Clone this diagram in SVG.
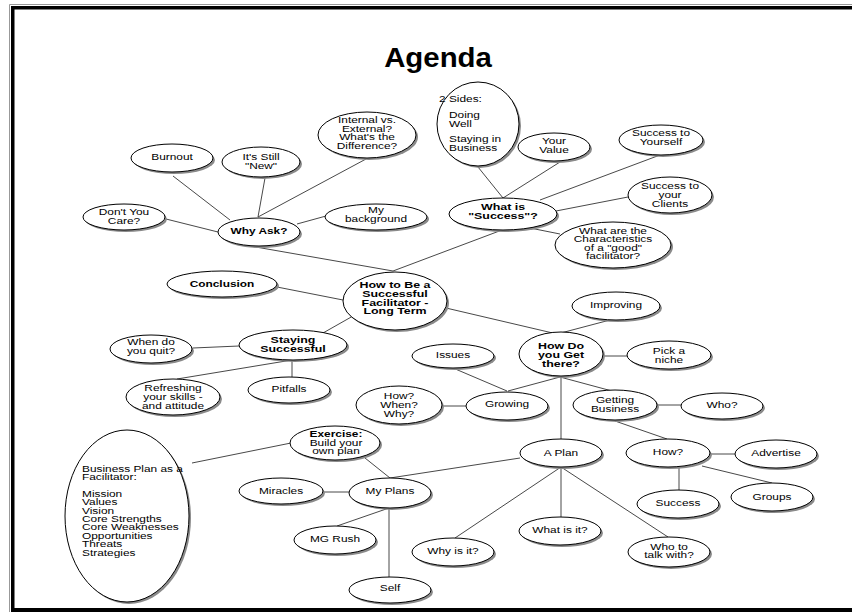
<svg xmlns="http://www.w3.org/2000/svg" width="852" height="612" viewBox="0 0 852 612">
<style>
.sh{fill:#8a8a8a}
.el{fill:#fff;stroke:#000;stroke-width:1}
.t{font-family:"Liberation Sans",Arial,sans-serif;font-size:8.8px;fill:#000;text-anchor:middle}
.tl{text-anchor:start}
.b{font-weight:bold}
.b10{font-weight:bold;font-size:9.2px}
#connectors line{stroke:#333;stroke-width:0.9}
</style>
<rect x="0" y="0" width="852" height="612" fill="#fff"/>
<g id="frame">
<line x1="9.5" y1="4.5" x2="852" y2="4.5" stroke="#999" stroke-width="1"/>
<line x1="9.5" y1="4.5" x2="9.5" y2="612" stroke="#999" stroke-width="1"/>
<rect x="11" y="6" width="841" height="3.5" fill="#000"/>
<rect x="11" y="6" width="3.5" height="606" fill="#000"/>
<rect x="11" y="608" width="841" height="4" fill="#000"/>
</g>
<text id="title" class="t b" transform="translate(438 0) scale(1.05 1)" y="67" style="font-size:28px">Agenda</text>
<g id="connectors">
<line x1="173" y1="176" x2="230" y2="220"/>
<line x1="265" y1="178" x2="258" y2="217"/>
<line x1="366" y1="159" x2="258" y2="217"/>
<line x1="166" y1="219" x2="218" y2="232"/>
<line x1="297" y1="224" x2="326" y2="216"/>
<line x1="250" y1="246" x2="393" y2="271"/>
<line x1="478" y1="167" x2="503" y2="198"/>
<line x1="560" y1="162" x2="503" y2="198"/>
<line x1="660" y1="155" x2="540" y2="200"/>
<line x1="628" y1="197" x2="556" y2="211"/>
<line x1="530" y1="228" x2="560" y2="234"/>
<line x1="502" y1="230" x2="393" y2="271"/>
<line x1="277" y1="287" x2="343" y2="300"/>
<line x1="323" y1="333" x2="353" y2="316"/>
<line x1="446" y1="308" x2="557" y2="334"/>
<line x1="610" y1="320" x2="557" y2="334"/>
<line x1="603" y1="356" x2="627" y2="356"/>
<line x1="560" y1="377" x2="508" y2="391"/>
<line x1="560" y1="377" x2="612" y2="391"/>
<line x1="561" y1="377" x2="561" y2="440"/>
<line x1="453" y1="368" x2="507" y2="391"/>
<line x1="442" y1="406" x2="466" y2="406"/>
<line x1="656" y1="405" x2="682" y2="405"/>
<line x1="615" y1="421" x2="667" y2="439"/>
<line x1="710" y1="454" x2="735" y2="454"/>
<line x1="702" y1="466" x2="772" y2="483"/>
<line x1="679" y1="467" x2="679" y2="490"/>
<line x1="520" y1="458" x2="390" y2="478"/>
<line x1="561" y1="467" x2="455" y2="538"/>
<line x1="561" y1="467" x2="561" y2="517"/>
<line x1="561" y1="467" x2="668" y2="537"/>
<line x1="365" y1="458" x2="390" y2="478"/>
<line x1="323" y1="492" x2="349" y2="492"/>
<line x1="389" y1="508" x2="337" y2="526"/>
<line x1="389" y1="508" x2="389" y2="577"/>
<line x1="192" y1="463" x2="291" y2="443"/>
<line x1="193" y1="348" x2="239" y2="346"/>
<line x1="292" y1="360" x2="177" y2="379"/>
<line x1="292" y1="360" x2="292" y2="377"/>
</g>

<g id="burnout"><ellipse class="sh" cx="174" cy="160" rx="41" ry="14"/><ellipse class="el" cx="172" cy="158" rx="41" ry="14"/>
<text class="t" transform="translate(172 0) scale(1.35 1)" y="160.2">Burnout</text></g>

<g id="still-new"><ellipse class="sh" cx="263" cy="164" rx="39" ry="15"/><ellipse class="el" cx="261" cy="162" rx="39" ry="15"/>
<text class="t" transform="translate(261 0) scale(1.35 1)"><tspan x="0" y="160.3">It's Still</tspan><tspan x="0" y="169.1">"New"</tspan></text></g>

<g id="dont-care"><ellipse class="sh" cx="126" cy="219" rx="41" ry="13"/><ellipse class="el" cx="124" cy="217" rx="41" ry="13"/>
<text class="t" transform="translate(124 0) scale(1.35 1)"><tspan x="0" y="215.3">Don't You</tspan><tspan x="0" y="224.1">Care?</tspan></text></g>

<g id="why-ask"><ellipse class="sh" cx="261" cy="234" rx="41" ry="14"/><ellipse class="el" cx="259" cy="232" rx="41" ry="14"/>
<text class="t b" transform="translate(259 0) scale(1.35 1)" y="234.3">Why Ask?</text></g>

<g id="internal"><ellipse class="sh" cx="369" cy="137" rx="49" ry="23"/><ellipse class="el" cx="367" cy="135" rx="49" ry="23"/>
<text class="t" transform="translate(367 0) scale(1.35 1)"><tspan x="0" y="122.8">Internal vs.</tspan><tspan x="0" y="131.6">External?</tspan><tspan x="0" y="140.4">What's the</tspan><tspan x="0" y="149.2">Difference?</tspan></text></g>

<g id="my-background"><ellipse class="sh" cx="378" cy="219" rx="51" ry="13"/><ellipse class="el" cx="376" cy="217" rx="51" ry="13"/>
<text class="t" transform="translate(376 0) scale(1.35 1)"><tspan x="0" y="212.8">My</tspan><tspan x="0" y="221.6">background</tspan></text></g>

<g id="two-sides"><ellipse class="sh" cx="480" cy="126" rx="41" ry="42"/><ellipse class="el" cx="478" cy="124" rx="41" ry="42"/>
<text class="t tl" transform="translate(439 0) scale(1.35 1)"><tspan x="0" y="102.3">2 Sides:</tspan><tspan x="7.4" y="118.3">Doing</tspan><tspan x="7.4" y="127.1">Well</tspan><tspan x="7.4" y="142.3">Staying in</tspan><tspan x="7.4" y="151.1">Business</tspan></text></g>

<g id="your-value"><ellipse class="sh" cx="556" cy="149" rx="36" ry="14"/><ellipse class="el" cx="554" cy="147" rx="36" ry="14"/>
<text class="t" transform="translate(554 0) scale(1.35 1)"><tspan x="0" y="143.8">Your</tspan><tspan x="0" y="152.6">Value</tspan></text></g>

<g id="what-is-success"><ellipse class="sh" cx="505" cy="216" rx="54" ry="16"/><ellipse class="el" cx="503" cy="214" rx="54" ry="16"/>
<text class="t b10" transform="translate(503 0) scale(1.35 1)"><tspan x="0" y="209.9">What is</tspan><tspan x="0" y="218.7">"Success"?</tspan></text></g>

<g id="success-yourself"><ellipse class="sh" cx="663" cy="142" rx="42" ry="15"/><ellipse class="el" cx="661" cy="140" rx="42" ry="15"/>
<text class="t" transform="translate(661 0) scale(1.35 1)"><tspan x="0" y="136.3">Success to</tspan><tspan x="0" y="145.1">Yourself</tspan></text></g>

<g id="success-clients"><ellipse class="sh" cx="672" cy="197" rx="42" ry="18"/><ellipse class="el" cx="670" cy="195" rx="42" ry="18"/>
<text class="t" transform="translate(670 0) scale(1.35 1)"><tspan x="0" y="189.4">Success to</tspan><tspan x="0" y="198.2">your</tspan><tspan x="0" y="207">Clients</tspan></text></g>

<g id="characteristics"><ellipse class="sh" cx="615" cy="247" rx="58" ry="23"/><ellipse class="el" cx="613" cy="245" rx="58" ry="23"/>
<text class="t" transform="translate(613 0) scale(1.35 1)"><tspan x="0" y="234.1">What are the</tspan><tspan x="0" y="242.5">Characteristics</tspan><tspan x="0" y="250.9">of a "good"</tspan><tspan x="0" y="259.3">facilitator?</tspan></text></g>

<g id="improving"><ellipse class="sh" cx="618" cy="308" rx="44" ry="14"/><ellipse class="el" cx="616" cy="306" rx="44" ry="14"/>
<text class="t" transform="translate(616 0) scale(1.35 1)" y="308.2">Improving</text></g>

<g id="pick-niche"><ellipse class="sh" cx="671" cy="357" rx="42" ry="14"/><ellipse class="el" cx="669" cy="355" rx="42" ry="14"/>
<text class="t" transform="translate(669 0) scale(1.35 1)"><tspan x="0" y="353.8">Pick a</tspan><tspan x="0" y="362.6">niche</tspan></text></g>

<g id="conclusion"><ellipse class="sh" cx="224" cy="286" rx="55" ry="13"/><ellipse class="el" cx="222" cy="284" rx="55" ry="13"/>
<text class="t b" transform="translate(222 0) scale(1.35 1)" y="287.3">Conclusion</text></g>

<g id="how-to-be"><ellipse class="sh" cx="397" cy="303" rx="52" ry="29"/><ellipse class="el" cx="395" cy="301" rx="52" ry="29"/>
<text class="t b10" transform="translate(395 0) scale(1.35 1)"><tspan x="0" y="288.1">How to Be a</tspan><tspan x="0" y="296.9">Successful</tspan><tspan x="0" y="305.7">Facilitator -</tspan><tspan x="0" y="314.5">Long Term</tspan></text></g>

<g id="staying"><ellipse class="sh" cx="295" cy="347" rx="54" ry="15"/><ellipse class="el" cx="293" cy="345" rx="54" ry="15"/>
<text class="t b10" transform="translate(293 0) scale(1.35 1)"><tspan x="0" y="342.9">Staying</tspan><tspan x="0" y="351.7">Successful</tspan></text></g>

<g id="when-quit"><ellipse class="sh" cx="153" cy="351" rx="41" ry="14"/><ellipse class="el" cx="151" cy="349" rx="41" ry="14"/>
<text class="t" transform="translate(151 0) scale(1.35 1)"><tspan x="0" y="345.3">When do</tspan><tspan x="0" y="354.1">you quit?</tspan></text></g>

<g id="refreshing"><ellipse class="sh" cx="175" cy="399" rx="47" ry="18"/><ellipse class="el" cx="173" cy="397" rx="47" ry="18"/>
<text class="t" transform="translate(173 0) scale(1.35 1)"><tspan x="0" y="391.1">Refreshing</tspan><tspan x="0" y="399.9">your skills -</tspan><tspan x="0" y="408.7">and attitude</tspan></text></g>

<g id="pitfalls"><ellipse class="sh" cx="291" cy="392" rx="41" ry="13"/><ellipse class="el" cx="289" cy="390" rx="41" ry="13"/>
<text class="t" transform="translate(289 0) scale(1.35 1)" y="392.2">Pitfalls</text></g>

<g id="how-do"><ellipse class="sh" cx="563" cy="356" rx="42" ry="22"/><ellipse class="el" cx="561" cy="354" rx="42" ry="22"/>
<text class="t b10" transform="translate(561 0) scale(1.35 1)"><tspan x="0" y="349.5">How Do</tspan><tspan x="0" y="358.3">you Get</tspan><tspan x="0" y="367.1">there?</tspan></text></g>

<g id="issues"><ellipse class="sh" cx="455" cy="358" rx="41" ry="12"/><ellipse class="el" cx="453" cy="356" rx="41" ry="12"/>
<text class="t" transform="translate(453 0) scale(1.35 1)" y="358.2">Issues</text></g>

<g id="how-when-why"><ellipse class="sh" cx="401" cy="407" rx="43" ry="19"/><ellipse class="el" cx="399" cy="405" rx="43" ry="19"/>
<text class="t" transform="translate(399 0) scale(1.35 1)"><tspan x="0" y="399.2">How?</tspan><tspan x="0" y="408">When?</tspan><tspan x="0" y="416.8">Why?</tspan></text></g>

<g id="growing"><ellipse class="sh" cx="509" cy="408" rx="41" ry="14"/><ellipse class="el" cx="507" cy="406" rx="41" ry="14"/>
<text class="t" transform="translate(507 0) scale(1.35 1)" y="407.5">Growing</text></g>

<g id="getting-business"><ellipse class="sh" cx="617" cy="407" rx="42" ry="15"/><ellipse class="el" cx="615" cy="405" rx="42" ry="15"/>
<text class="t" transform="translate(615 0) scale(1.35 1)"><tspan x="0" y="402.8">Getting</tspan><tspan x="0" y="411.6">Business</tspan></text></g>

<g id="who"><ellipse class="sh" cx="724" cy="408" rx="41" ry="13"/><ellipse class="el" cx="722" cy="406" rx="41" ry="13"/>
<text class="t" transform="translate(722 0) scale(1.35 1)" y="407.7">Who?</text></g>

<g id="a-plan"><ellipse class="sh" cx="563" cy="455" rx="41" ry="14"/><ellipse class="el" cx="561" cy="453" rx="41" ry="14"/>
<text class="t" transform="translate(561 0) scale(1.35 1)" y="456.5">A Plan</text></g>

<g id="how"><ellipse class="sh" cx="670" cy="455" rx="42" ry="14"/><ellipse class="el" cx="668" cy="453" rx="42" ry="14"/>
<text class="t" transform="translate(668 0) scale(1.35 1)" y="454.9">How?</text></g>

<g id="advertise"><ellipse class="sh" cx="778" cy="456" rx="41" ry="14"/><ellipse class="el" cx="776" cy="454" rx="41" ry="14"/>
<text class="t" transform="translate(776 0) scale(1.35 1)" y="455.9">Advertise</text></g>

<g id="groups"><ellipse class="sh" cx="774" cy="499" rx="41" ry="14"/><ellipse class="el" cx="772" cy="497" rx="41" ry="14"/>
<text class="t" transform="translate(772 0) scale(1.35 1)" y="500.5">Groups</text></g>

<g id="success"><ellipse class="sh" cx="680" cy="506" rx="41" ry="14"/><ellipse class="el" cx="678" cy="504" rx="41" ry="14"/>
<text class="t" transform="translate(678 0) scale(1.35 1)" y="506.5">Success</text></g>

<g id="business-plan"><ellipse class="sh" cx="129" cy="518" rx="62" ry="86"/><ellipse class="el" cx="127" cy="516" rx="62" ry="86"/>
<text class="t tl" transform="translate(82 0) scale(1.35 1)"><tspan x="0" y="471.7">Business Plan as a</tspan><tspan x="0" y="480.1">Facilitator:</tspan><tspan x="0" y="496.9">Mission</tspan><tspan x="0" y="505.3">Values</tspan><tspan x="0" y="513.7">Vision</tspan><tspan x="0" y="522.1">Core Strengths</tspan><tspan x="0" y="530.5">Core Weaknesses</tspan><tspan x="0" y="538.9">Opportunities</tspan><tspan x="0" y="547.3">Threats</tspan><tspan x="0" y="555.7">Strategies</tspan></text></g>

<g id="exercise"><ellipse class="sh" cx="337" cy="445" rx="45" ry="17"/><ellipse class="el" cx="335" cy="443" rx="45" ry="17"/>
<text class="t" transform="translate(336 0) scale(1.35 1)"><tspan x="0" y="437.4" class="b">Exercise:</tspan><tspan x="0" y="445.9">Build your</tspan><tspan x="0" y="454.5">own plan</tspan></text></g>

<g id="miracles"><ellipse class="sh" cx="283" cy="493" rx="42" ry="13"/><ellipse class="el" cx="281" cy="491" rx="42" ry="13"/>
<text class="t" transform="translate(281 0) scale(1.35 1)" y="493.9">Miracles</text></g>

<g id="my-plans"><ellipse class="sh" cx="392" cy="495" rx="41" ry="15"/><ellipse class="el" cx="390" cy="493" rx="41" ry="15"/>
<text class="t" transform="translate(390 0) scale(1.35 1)" y="493.9">My Plans</text></g>

<g id="mg-rush"><ellipse class="sh" cx="337" cy="542" rx="41" ry="14"/><ellipse class="el" cx="335" cy="540" rx="41" ry="14"/>
<text class="t" transform="translate(335 0) scale(1.35 1)" y="542.5">MG Rush</text></g>

<g id="self"><ellipse class="sh" cx="392" cy="592" rx="41" ry="13"/><ellipse class="el" cx="390" cy="590" rx="41" ry="13"/>
<text class="t" transform="translate(390 0) scale(1.35 1)" y="591.5">Self</text></g>

<g id="why-is-it"><ellipse class="sh" cx="455" cy="554" rx="41" ry="14"/><ellipse class="el" cx="453" cy="552" rx="41" ry="14"/>
<text class="t" transform="translate(453 0) scale(1.35 1)" y="553.9">Why is it?</text></g>

<g id="what-is-it"><ellipse class="sh" cx="562" cy="533" rx="41" ry="14"/><ellipse class="el" cx="560" cy="531" rx="41" ry="14"/>
<text class="t" transform="translate(560 0) scale(1.35 1)" y="533.2">What is it?</text></g>

<g id="who-talk"><ellipse class="sh" cx="671" cy="554" rx="41" ry="15"/><ellipse class="el" cx="669" cy="552" rx="41" ry="15"/>
<text class="t" transform="translate(669 0) scale(1.35 1)"><tspan x="0" y="549.6">Who to</tspan><tspan x="0" y="558.4">talk with?</tspan></text></g>
</svg>
